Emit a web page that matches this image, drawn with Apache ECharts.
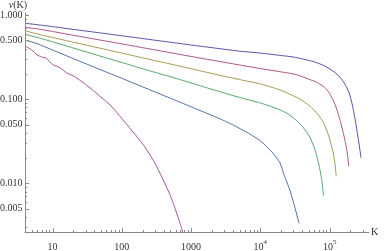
<!DOCTYPE html>
<html><head><meta charset="utf-8">
<script src="https://cdn.jsdelivr.net/npm/echarts@6/dist/echarts.min.js"></script>
<style>html,body{margin:0;padding:0;background:#fff}#c{width:384px;height:251px}</style>
</head><body><div id="c"></div>
<script>
// Curve data (K, nu(K)), top curve first
const K1 = [4, 6, 10, 20, 50, 100, 200, 500, 1000, 2000, 5000, 1e4, 2e4, 3e4, 5.9e4, 8.5e4, 1.15e5, 1.4e5, 1.65e5, 1.89e5, 2.08e5, 2.3e5, 2.54e5, 2.84e5];
const v1 = [0.797, 0.767, 0.728, 0.674, 0.611, 0.566, 0.525, 0.475, 0.440, 0.409, 0.372, 0.353, 0.330, 0.317, 0.279, 0.248, 0.212, 0.184, 0.152, 0.122, 0.0926, 0.0615, 0.0376, 0.0202];

const K2 = [4, 6, 10, 20, 50, 100, 200, 500, 1000, 2000, 5000, 1e4, 2e4, 3.3e4, 5e4, 6.5e4, 8.5e4, 1e5, 1.19e5, 1.4e5, 1.6e5, 1.77e5, 1.89e5];
const v2 = [0.714, 0.685, 0.637, 0.574, 0.502, 0.454, 0.409, 0.357, 0.322, 0.291, 0.255, 0.231, 0.211, 0.196, 0.173, 0.159, 0.138, 0.117, 0.0877, 0.0582, 0.0376, 0.0249, 0.0161];

const K3 = [4, 6, 10, 20, 50, 100, 200, 500, 1000, 2000, 5000, 1e4, 1.91e4, 2.66e4, 3.71e4, 5.16e4, 6.73e4, 8.22e4, 9.39e4, 1.038e5, 1.127e5, 1.197e5, 1.245e5];
const v3 = [0.651, 0.595, 0.541, 0.475, 0.401, 0.353, 0.310, 0.262, 0.230, 0.202, 0.171, 0.152, 0.129, 0.115, 0.1005, 0.0830, 0.0667, 0.0521, 0.0397, 0.0302, 0.0230, 0.0170, 0.0122];

const K4 = [4, 6, 10, 20, 50, 100, 200, 500, 1000, 2000, 5000, 1e4, 1.37e4, 2.25e4, 3.14e4, 4.1e4, 5.17e4, 6.1e4, 6.97e4, 7.7e4, 8.15e4];
const v4 = [0.590, 0.542, 0.480, 0.405, 0.323, 0.273, 0.230, 0.185, 0.156, 0.131, 0.105, 0.0902, 0.0830, 0.0705, 0.0582, 0.0468, 0.0356, 0.0256, 0.0170, 0.0110, 0.00718];

const K5 = [4, 6, 10, 20, 50, 100, 200, 500, 1000, 1345, 2610, 4300, 7060, 1.05e4, 1.47e4, 1.91e4, 2.18e4, 2.66e4, 3.04e4, 3.62e4];
const v5 = [0.505, 0.456, 0.384, 0.303, 0.223, 0.177, 0.140, 0.103, 0.0813, 0.0734, 0.0585, 0.0481, 0.0386, 0.0310, 0.0236, 0.0177, 0.0129, 0.00835, 0.00577, 0.00336];

const K6 = [4, 5, 6, 7, 8, 10, 13, 16, 20, 30, 50, 70, 100, 200, 300, 500, 700, 800];
const v6 = [0.428, 0.384, 0.335, 0.317, 0.309, 0.258, 0.235, 0.205, 0.189, 0.150, 0.106, 0.083, 0.0591, 0.0294, 0.0175, 0.0072, 0.00329, 0.0022];

// Tick values and labels
const xMajorTicks = [10, 100, 1000, 10000, 100000];
const xTickLabels = ['{b|10}', '{b|100}', '{b|1000}', '{b|10}{s|4}', '{b|10}{s|5}'];
const yMajorTicks = [0.005, 0.01, 0.05, 0.1, 0.5, 1];
const yTickLabels = ['0.005', '0.010', '0.050', '0.100', '0.500', '1.000'];

const xMin = 4, xMax = 3.7e5, yMin = 0.00265, yMax = 1.056;
const colors = ['#5353A8', '#A8538A', '#A89A53', '#53A86C', '#5370A8', '#A853A0'];
const curves = [[K1, v1], [K2, v2], [K3, v3], [K4, v4], [K5, v5], [K6, v6]];

const AXIS = '#8a8a8a', TXT = '#333', FONT = '"Liberation Serif", "DejaVu Serif", serif';

// tick lists (minor ticks at 2..9 x powers of ten)
const xTicks = xMajorTicks.map((v, i) => ({v, major: true, label: xTickLabels[i]}));
for (let d = 1; d <= 1e5; d *= 10) for (let m = 2; m <= 9; m++) {
  const v = m * d; if (v > xMin && v < xMax) xTicks.push({v, major: false});
}
const yTicks = yMajorTicks.map((v, i) => ({v, major: true, label: yTickLabels[i]}));
for (let d = 0.001; d < 1; d *= 10) for (let m = 2; m <= 9; m++) {
  if (m === 5) continue;
  const v = m * d; if (v > yMin && v < yMax) yTicks.push({v, major: false});
}

const rich = {
  b: {fontSize: 10, fontFamily: FONT, fill: TXT, lineHeight: 13, verticalAlign: 'bottom'},
  s: {fontSize: 7, fontFamily: FONT, fill: TXT, lineHeight: 13, verticalAlign: 'top'}
};

const series = curves.map((c, i) => ({
  type: 'line', data: c[0].map((k, j) => [k, c[1][j]]),
  symbol: 'none', smooth: 0.2,
  lineStyle: {width: 1, color: colors[i]}, silent: true, z: 3
}));

series.push({
  type: 'custom', coordinateSystem: 'cartesian2d', silent: true, clip: false, z: 4,
  data: xTicks.map(t => [t.v, yMin]),
  renderItem: (params, api) => {
    const t = xTicks[params.dataIndex];
    const p = api.coord([api.value(0), api.value(1)]);
    const x = Math.round(p[0]) + 0.5, y = Math.round(p[1]);
    const ch = [{type: 'line', shape: {x1: x, y1: y, x2: x, y2: y - (t.major ? 4 : 2)}, style: {stroke: AXIS, lineWidth: 1}}];
    if (t.label) ch.push({type: 'text', x: p[0], y: y + 13.5,
      style: {text: t.label, rich, align: 'center', verticalAlign: 'middle'}});
    return {type: 'group', children: ch};
  }
});
series.push({
  type: 'custom', coordinateSystem: 'cartesian2d', silent: true, clip: false, z: 4,
  data: yTicks.map(t => [xMin, t.v]),
  renderItem: (params, api) => {
    const t = yTicks[params.dataIndex];
    const p = api.coord([api.value(0), api.value(1)]);
    const x = Math.round(p[0]), y = Math.round(p[1]) + 0.5;
    const ch = [{type: 'line', shape: {x1: x, y1: y, x2: x + (t.major ? 4 : 2), y2: y}, style: {stroke: AXIS, lineWidth: 1}}];
    if (t.label) ch.push({type: 'text', x: x - 2.5, y: p[1],
      style: {text: t.label, font: '10px ' + FONT, fill: TXT, align: 'right', verticalAlign: 'middle'}});
    return {type: 'group', children: ch};
  }
});

const chart = echarts.init(document.getElementById('c'), null, {renderer: 'canvas'});
chart.setOption({
  animation: false,
  backgroundColor: '#fff',
  grid: {left: 25, right: 15, top: 13, bottom: 19, containLabel: false},
  xAxis: {
    type: 'log', logBase: 10, min: xMin, max: xMax,
    name: 'K', nameLocation: 'end', nameGap: 2,
    nameTextStyle: {fontFamily: FONT, fontSize: 10, color: TXT, verticalAlign: 'middle'},
    axisLine: {show: true, lineStyle: {color: AXIS, width: 1}},
    axisTick: {show: false}, axisLabel: {show: false}, splitLine: {show: false}
  },
  yAxis: {
    type: 'log', logBase: 10, min: yMin, max: yMax,
    name: '{i|ν}(K)', nameLocation: 'end', nameGap: 3,
    nameTextStyle: {fontFamily: FONT, fontSize: 10, color: TXT, padding: [0, 14, 0, 0],
      rich: {i: {fontFamily: FONT, fontSize: 10, fontStyle: 'italic', color: TXT}}},
    axisLine: {show: true, lineStyle: {color: AXIS, width: 1}},
    axisTick: {show: false}, axisLabel: {show: false}, splitLine: {show: false}
  },
  series
});
</script></body></html>
